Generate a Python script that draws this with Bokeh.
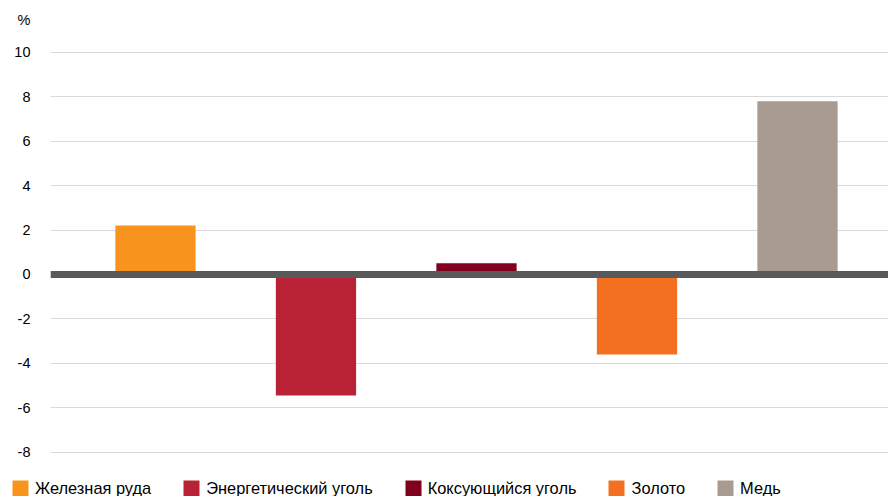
from bokeh.plotting import figure
from bokeh.layouts import column
from bokeh.models import Range1d, Span, Legend, LegendItem, FixedTicker, ColumnDataSource
from bokeh.embed import file_html
from bokeh.resources import INLINE

categories = ["Железная руда", "Энергетический уголь", "Коксующийся уголь", "Золото", "Медь"]
values = [2.2, -5.45, 0.5, -3.6, 7.8]
colors = ["#F8941E", "#B92235", "#80001E", "#F37021", "#A89B91"]
y_ticks = [-8, -6, -4, -2, 0, 2, 4, 6, 8, 10]
y_tick_labels = ["-8", "-6", "-4", "-2", "0", "2", "4", "6", "8", "10"]
unit_label = "%"
unit_pos = 11.44

FONT = "Liberation Sans"

p = figure(width=888, height=472, output_backend="svg", toolbar_location=None,
           x_range=Range1d(-0.654, 4.567), y_range=Range1d(-8.47, 11.98),
           x_axis_location=None,
           min_border_left=50, min_border_right=0, min_border_top=8, min_border_bottom=10)
p.frame_align = False
p.outline_line_color = None
p.xgrid.grid_line_color = None

overrides = {t: lab for t, lab in zip(y_ticks, y_tick_labels)}
overrides[unit_pos] = unit_label
p.yaxis.ticker = FixedTicker(ticks=y_ticks + [unit_pos])
p.yaxis.major_label_overrides = overrides
p.yaxis.axis_line_color = None
p.yaxis.major_tick_line_color = None
p.yaxis.minor_tick_line_color = None
p.yaxis.major_tick_out = 0
p.yaxis.major_tick_in = 0
p.yaxis.major_label_standoff = 20
p.yaxis.major_label_text_font = FONT
p.yaxis.major_label_text_font_size = "14.5px"
p.yaxis.major_label_text_color = "#000000"
p.ygrid.ticker = FixedTicker(ticks=y_ticks)
p.ygrid.grid_line_color = "#D9D9D9"
p.ygrid.grid_line_width = 1

for i, (v, col) in enumerate(zip(values, colors)):
    src = ColumnDataSource(dict(x=[i], top=[v]))
    p.vbar(x="x", top="top", bottom=0, width=0.5, source=src, fill_color=col, line_color=None)

p.add_layout(Span(location=0, dimension="width", line_color="#58595B", line_width=7))

# legend strip
p2 = figure(width=888, height=24, output_backend="svg", toolbar_location=None,
            x_range=Range1d(0, 888), y_range=Range1d(0, 24),
            x_axis_location=None, y_axis_location=None,
            min_border_left=0, min_border_right=0, min_border_top=0, min_border_bottom=0)
p2.frame_align = False
p2.outline_line_color = None
p2.grid.visible = False
items = []
for c, col in zip(categories, colors):
    r = p2.vbar(x=[-100], top=[0], width=1, fill_color=col, line_color=None)
    items.append(LegendItem(label=c, renderers=[r]))

legend = Legend(items=items, orientation="horizontal", location=(10, -2),
                glyph_width=20, glyph_height=20, label_standoff=5, spacing=30,
                padding=0, margin=0, border_line_color=None, background_fill_alpha=0,
                label_text_font=FONT, label_text_font_size="16.4px", label_text_color="#000000")
p2.add_layout(legend, "center")

layout = column(p, p2, spacing=0)
open("out.html", "w").write(file_html(layout, INLINE))
